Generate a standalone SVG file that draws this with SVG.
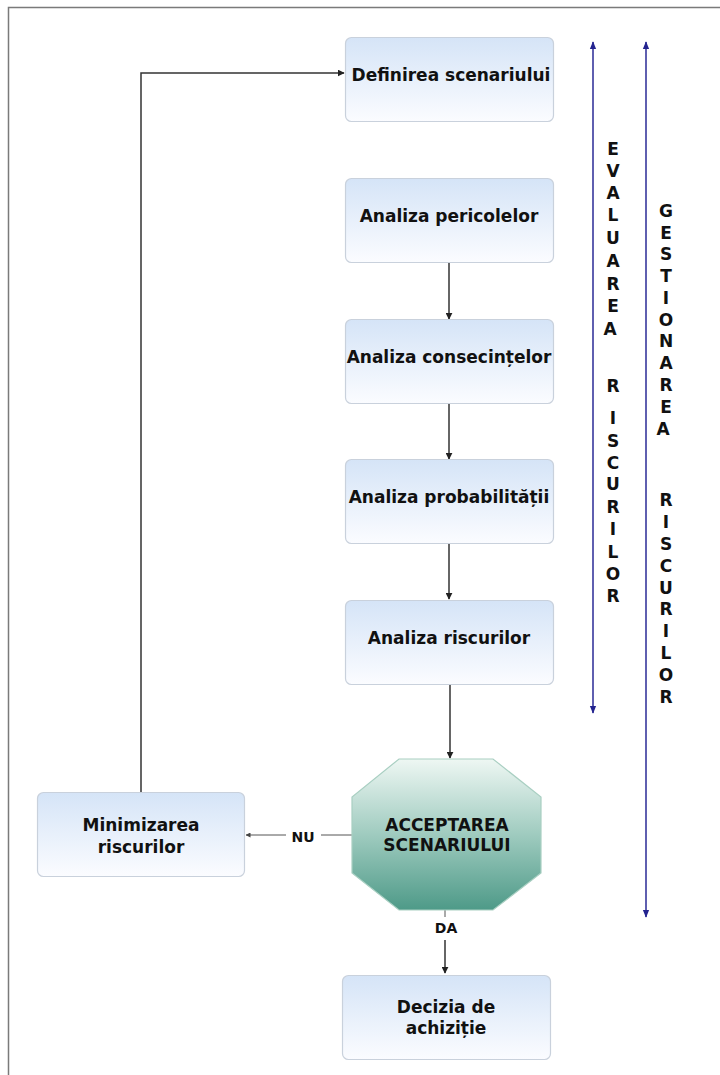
<svg xmlns="http://www.w3.org/2000/svg" width="720" height="1075" viewBox="0 0 720 1075">
  <defs>
    <linearGradient id="boxFill" x1="0" y1="0" x2="0" y2="1">
      <stop offset="0" stop-color="#d5e4f7"/>
      <stop offset="1" stop-color="#fbfcff"/>
    </linearGradient>
    <linearGradient id="octFill" x1="0" y1="0" x2="0" y2="1">
      <stop offset="0" stop-color="#eef7f3"/>
      <stop offset="0.5" stop-color="#9fcbbf"/>
      <stop offset="1" stop-color="#4e9a88"/>
    </linearGradient>
    <marker id="arr" viewBox="0 0 10 10" refX="9" refY="5" markerWidth="7" markerHeight="7" orient="auto" markerUnits="userSpaceOnUse">
      <path d="M0,0 L10,5 L0,10 z" fill="#222"/>
    </marker>
    <marker id="arrSmall" viewBox="0 0 10 10" refX="9" refY="5" markerWidth="5" markerHeight="5" orient="auto" markerUnits="userSpaceOnUse">
      <path d="M0,0 L10,5 L0,10 z" fill="#444"/>
    </marker>
    <marker id="blueEnd" viewBox="0 0 10 10" refX="9" refY="5" markerWidth="8" markerHeight="8" orient="auto" markerUnits="userSpaceOnUse">
      <path d="M0,1 L10,5 L0,9 z" fill="#23238f"/>
    </marker>
    <marker id="blueStart" viewBox="0 0 10 10" refX="1" refY="5" markerWidth="8" markerHeight="8" orient="auto" markerUnits="userSpaceOnUse">
      <path d="M10,1 L0,5 L10,9 z" fill="#23238f"/>
    </marker>
  </defs>
  <style>
    .box { fill: url(#boxFill); stroke: #c9d1dc; stroke-width: 1.2; }
    .oct { fill: url(#octFill); stroke: #a9cfc2; stroke-width: 1.2; }
    .lbl { font-family: "DejaVu Sans", Verdana, sans-serif; font-weight: bold; font-size: 17px; fill: #111; text-anchor: middle; }
    .small { font-family: "DejaVu Sans", Verdana, sans-serif; font-weight: bold; font-size: 14px; fill: #111; text-anchor: middle; }
    .vtxt { font-family: "DejaVu Sans", Verdana, sans-serif; font-weight: bold; font-size: 17px; fill: #111; text-anchor: middle; }
    .conn { fill: none; stroke: #333; stroke-width: 1.5; }
    .thin { fill: none; stroke: #555; stroke-width: 1; }
    .blue { fill: none; stroke: #2a2a96; stroke-width: 1.5; }
    .frame { fill: none; stroke: #7a7a7a; stroke-width: 1.5; }
  </style>

  <rect x="0" y="0" width="720" height="1075" fill="#ffffff"/>
  <!-- page frame -->
  <path class="frame" d="M8.5,1075 L8.5,7.5 L720,7.5"/>

  <!-- connectors -->
  <g id="connectors">
    <path class="conn" d="M141,792 L141,73 L344,73" marker-end="url(#arr)"/>
    <path class="conn" d="M449,262 L449,319" marker-end="url(#arr)"/>
    <path class="conn" d="M449,403 L449,459" marker-end="url(#arr)"/>
    <path class="conn" d="M449,543 L449,599" marker-end="url(#arr)"/>
    <path class="conn" d="M450,685 L450,758" marker-end="url(#arr)"/>
    <path class="thin" d="M352,835 L321,835"/>
    <path class="thin" d="M286,835 L246,835" marker-end="url(#arrSmall)"/>
    <text class="small" x="303" y="842">NU</text>
    <path class="thin" d="M445,910 L445,917"/>
    <text class="small" x="446" y="933">DA</text>
    <path class="conn" d="M445,940 L445,973" marker-end="url(#arr)"/>
  </g>

  <!-- scope brackets -->
  <g id="scope-evaluare">
    <path class="blue" d="M593,42 L593,713" marker-start="url(#blueStart)" marker-end="url(#blueEnd)"/>
    <text class="vtxt">
      <tspan x="613" y="155">E</tspan><tspan x="613" y="177">V</tspan><tspan x="613" y="199">A</tspan><tspan x="613" y="221">L</tspan><tspan x="613" y="244">U</tspan><tspan x="613" y="267">A</tspan><tspan x="613" y="290">R</tspan><tspan x="613" y="312">E</tspan><tspan x="613" y="335">A</tspan>
      <tspan x="613" y="392">R</tspan><tspan x="613" y="424">I</tspan><tspan x="613" y="447">S</tspan><tspan x="613" y="469">C</tspan><tspan x="613" y="490">U</tspan><tspan x="613" y="513">R</tspan><tspan x="613" y="535">I</tspan><tspan x="613" y="558">L</tspan><tspan x="613" y="580">O</tspan><tspan x="613" y="602">R</tspan>
    </text>
  </g>
  <g id="scope-gestionare">
    <path class="blue" d="M646,42 L646,917" marker-start="url(#blueStart)" marker-end="url(#blueEnd)"/>
    <text class="vtxt">
      <tspan x="666" y="217">G</tspan><tspan x="666" y="239">E</tspan><tspan x="666" y="260">S</tspan><tspan x="666" y="282">T</tspan><tspan x="666" y="304">I</tspan><tspan x="666" y="326">O</tspan><tspan x="666" y="347">N</tspan><tspan x="666" y="369">A</tspan><tspan x="666" y="391">R</tspan><tspan x="666" y="413">E</tspan><tspan x="666" y="435">A</tspan>
      <tspan x="666" y="506">R</tspan><tspan x="666" y="528">I</tspan><tspan x="666" y="550">S</tspan><tspan x="666" y="572">C</tspan><tspan x="666" y="594">U</tspan><tspan x="666" y="615">R</tspan><tspan x="666" y="637">I</tspan><tspan x="666" y="659">L</tspan><tspan x="666" y="681">O</tspan><tspan x="666" y="703">R</tspan>
    </text>
  </g>

  <!-- process steps -->
  <g id="definirea">
    <rect class="box" x="345.5" y="37.5" width="208" height="84" rx="6"/>
    <text class="lbl" x="451" y="81">Definirea scenariului</text>
  </g>
  <g id="pericole">
    <rect class="box" x="345.5" y="178.5" width="208" height="84" rx="6"/>
    <text class="lbl" x="449" y="222">Analiza pericolelor</text>
  </g>
  <g id="consecinte">
    <rect class="box" x="345.5" y="319.5" width="208" height="84" rx="6"/>
    <text class="lbl" x="449" y="363">Analiza consecințelor</text>
  </g>
  <g id="probabilitate">
    <rect class="box" x="345.5" y="459.5" width="208" height="84" rx="6"/>
    <text class="lbl" x="449" y="503">Analiza probabilității</text>
  </g>
  <g id="riscuri">
    <rect class="box" x="345.5" y="600.5" width="208" height="84" rx="6"/>
    <text class="lbl" x="449" y="644">Analiza riscurilor</text>
  </g>
  <g id="acceptarea">
    <polygon class="oct" points="399,759 493,759 541,797 541,873 493,910 399,910 352,873 352,797"/>
    <text class="lbl" x="447" y="831">ACCEPTAREA</text>
    <text class="lbl" x="447" y="851">SCENARIULUI</text>
  </g>
  <g id="minimizarea">
    <rect class="box" x="37.5" y="792.5" width="207" height="84" rx="6"/>
    <text class="lbl" x="141" y="831">Minimizarea</text>
    <text class="lbl" x="141" y="853">riscurilor</text>
  </g>
  <g id="decizia">
    <rect class="box" x="342.5" y="975.5" width="208" height="84" rx="6"/>
    <text class="lbl" x="446" y="1013">Decizia de</text>
    <text class="lbl" x="446" y="1034">achiziție</text>
  </g>
</svg>
